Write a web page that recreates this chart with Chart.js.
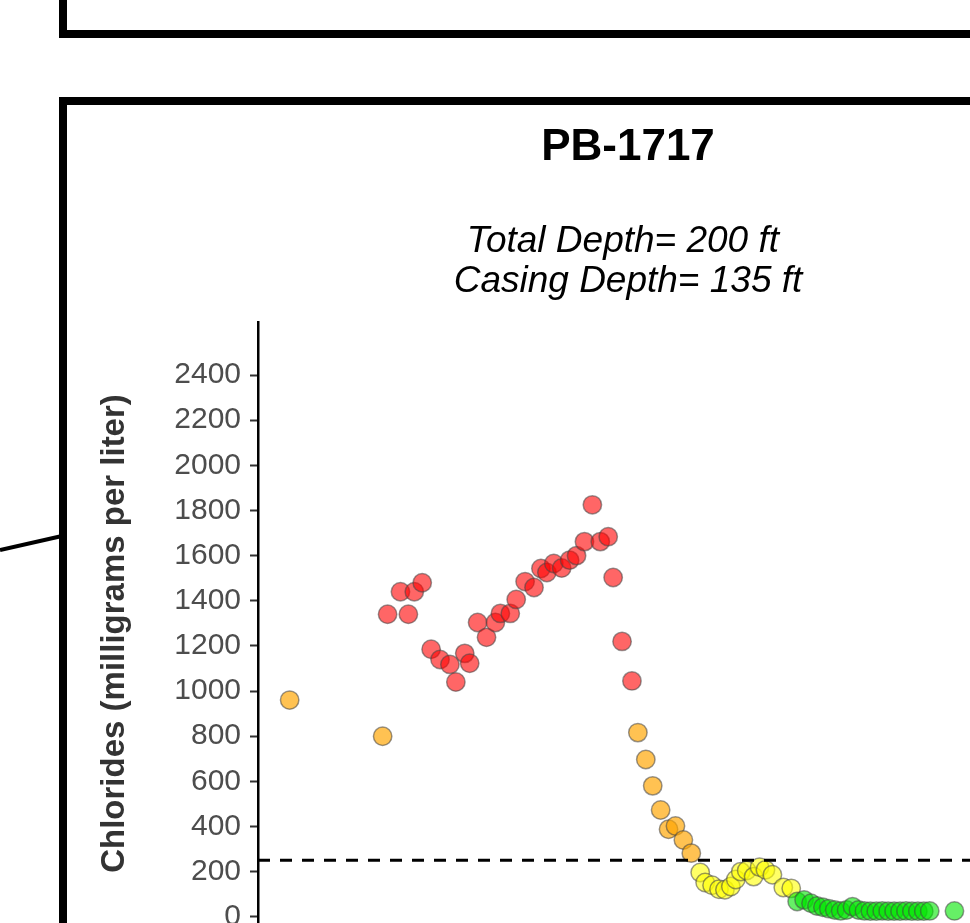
<!DOCTYPE html>
<html>
<head>
<meta charset="utf-8">
<script src="https://cdn.jsdelivr.net/npm/chart.js@4/dist/chart.umd.min.js"></script>
<style>
  html, body { margin: 0; padding: 0; background: #fff; overflow: hidden; width: 970px; height: 923px; }
  #wrap { position: relative; width: 970px; height: 923px; overflow: hidden; }
  #chart { position: absolute; left: 0; top: 0; }
  .box { position: absolute; box-sizing: border-box; border: 8px solid #000; }
  #leader { position: absolute; left: 0; top: 0; }
</style>
</head>
<body>
<div id="wrap">
  <div class="box" style="left:59px; top:-200px; width:1300px; height:238px;"></div>
  <div class="box" style="left:59px; top:97px; width:1300px; height:1000px;"></div>
  <svg id="leader" width="70" height="923"><line x1="0" y1="550" x2="62" y2="536" stroke="#000" stroke-width="4"/></svg>
  <canvas id="chart" width="1256" height="1000"></canvas>
</div>
<script>
// --- data ---
const wellName = 'PB-1717';
const depthLines = ['Total Depth= 200 ft ', 'Casing Depth= 135 ft'];
const yTitle = 'Chlorides (milligrams per liter)';

// sample position along the (unlabelled) time axis
const sampleX = [32, 126, 131, 144, 152, 158, 166, 175, 184, 194, 200, 209, 214, 222, 231, 240, 245, 255, 261, 270,
  279, 286, 292, 299, 307, 315, 322, 330, 338, 346, 354, 359, 368, 378, 384, 392, 399, 407, 415, 422,
  430, 438, 447, 452, 459, 466, 472, 478, 483, 488, 494, 501, 507, 513, 520, 531, 539, 545, 552, 559,
  565, 571, 577, 583, 589, 595, 601, 607, 613, 619, 625, 631, 637, 643, 649, 655, 661, 667, 673, 679, 704];
// chloride concentration, mg/L
const chlorides = [960, 800, 1340, 1440, 1340, 1440, 1480, 1185, 1140, 1118, 1040, 1167, 1123, 1304, 1238, 1304, 1344, 1344, 1406, 1485,
  1459, 1543, 1525, 1565, 1545, 1580, 1600, 1662, 1825, 1662, 1684, 1503, 1220, 1045, 816, 697, 580, 473, 388, 402,
  340, 282, 196, 152, 140, 122, 120, 134, 165, 200, 205, 178, 220, 208, 186, 130, 126, 68, 75, 60,
  48, 42, 36, 30, 26, 30, 45, 30, 26, 25, 25, 26, 25, 25, 25, 26, 25, 25, 25, 26, 26];

const yTicks = [0, 200, 400, 600, 800, 1000, 1200, 1400, 1600, 1800, 2000, 2200, 2400];
const limitValue = 250;            // dashed reference line
const binBreaks = [100, 250, 1000]; // colour classes
const binFills = ['rgba(0,230,0,0.6)', 'rgba(255,255,0,0.6)', 'rgba(255,165,0,0.68)', 'rgba(255,0,0,0.6)'];

function fillFor(v) {
    let i = 0;
    while (i < binBreaks.length && v >= binBreaks[i]) i++;
    return binFills[i];
}

const points = sampleX.map((x, i) => ({x: x, y: chlorides[i]}));
const xMax = 998;
const fontFam = 'Liberation Sans, Arial, sans-serif';

new Chart(document.getElementById('chart').getContext('2d'), {
    type: 'scatter',
    data: {
        datasets: [
            {
                type: 'line',
                data: [{x: 0, y: limitValue}, {x: xMax, y: limitValue}],
                borderColor: '#000',
                borderWidth: 3,
                borderDash: [12, 10],
                pointRadius: 0,
                order: 0
            },
            {
                data: points,
                backgroundColor: ctx => fillFor(ctx.raw ? ctx.raw.y : 0),
                borderColor: 'rgba(70,70,70,0.55)',
                borderWidth: 1.5,
                pointRadius: 9.2,
                order: 1
            }
        ]
    },
    options: {
        responsive: false,
        animation: false,
        layout: { padding: { left: 0, right: 0, top: 0, bottom: 55 } },
        plugins: {
            legend: { display: false },
            tooltip: { enabled: false },
            title: {
                display: true,
                text: wellName,
                color: '#000',
                font: { family: fontFam, size: 44, weight: 'bold', lineHeight: 1.2 },
                padding: { top: 121.6, bottom: 47 }
            },
            subtitle: {
                display: true,
                text: depthLines,
                color: '#000',
                font: { family: fontFam, size: 37, style: 'italic', lineHeight: 40 / 37 },
                padding: { top: 0, bottom: 20.6 }
            }
        },
        scales: {
            x: {
                type: 'linear',
                display: false,
                min: 0,
                max: xMax
            },
            y: {
                type: 'linear',
                min: -125,
                max: 2635,
                afterBuildTicks: s => { s.ticks = yTicks.map(v => ({value: v})); },
                afterFit: s => { s.width = 258; },
                border: { display: true, color: '#000', width: 2.5 },
                grid: { drawOnChartArea: false, drawTicks: true, tickLength: 8, tickColor: '#333', tickWidth: 2 },
                ticks: {
                    color: '#4d4d4d',
                    padding: 9,
                    font: { family: fontFam, size: 30 },
                    callback: v => String(v)
                },
                title: {
                    display: true,
                    text: yTitle,
                    color: '#333',
                    font: { family: fontFam, size: 33, weight: 'bold', lineHeight: 1.2 },
                    padding: { top: 95, bottom: 0 }
                }
            }
        }
    }
});
</script>
</body>
</html>
